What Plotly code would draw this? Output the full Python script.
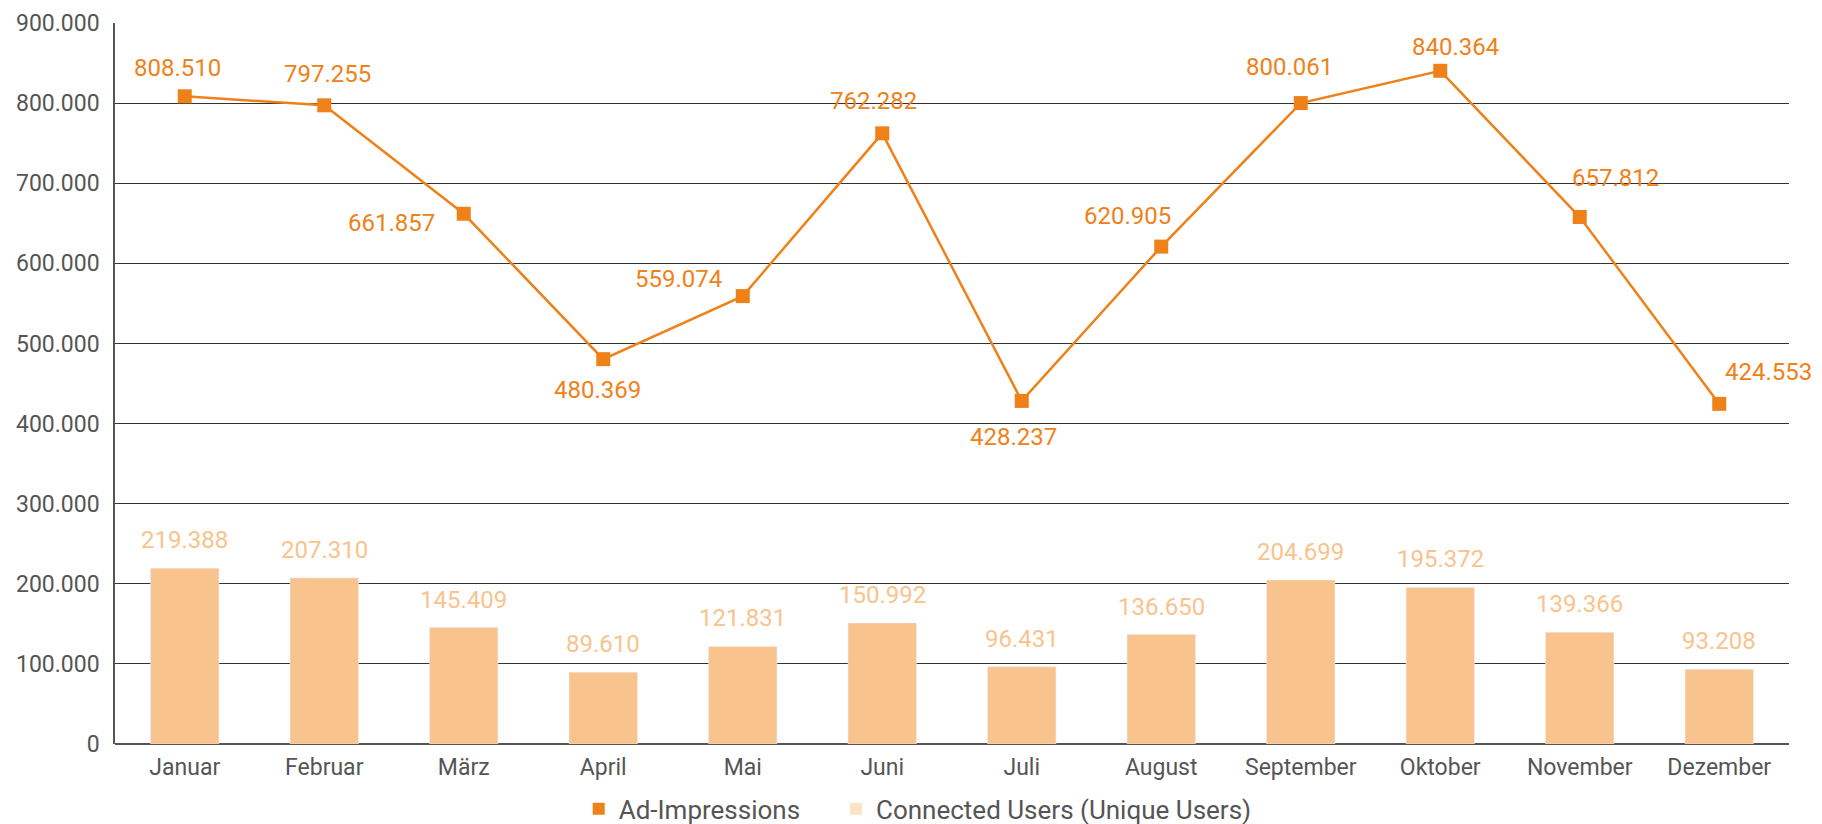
import plotly.graph_objects as go

months = ["Januar", "Februar", "März", "April", "Mai", "Juni", "Juli",
          "August", "September", "Oktober", "November", "Dezember"]
ad_impressions = [808510, 797255, 661857, 480369, 559074, 762282, 428237,
                  620905, 800061, 840364, 657812, 424553]
connected_users = [219388, 207310, 145409, 89610, 121831, 150992, 96431,
                   136650, 204699, 195372, 139366, 93208]

# label offsets (pixels) for the line value labels
line_dx = [-7, 3, -72, -6, -64, -9, -8, -34, -11, 15, 36, 49]
line_dy = [28, 31, -9, -31, 17, 32, -36, 31, 36, 24, 39, 32]

ORANGE = "#EF8119"
BAR = "#F9C38D"
BAR_LEGEND = "#FFE3C8"
FONT = "Roboto"
GREY = "#555555"

fmt = lambda v: f"{v:,}".replace(",", ".")

fig = go.Figure()
fig.add_trace(go.Bar(
    x=months, y=connected_users, marker_color=BAR, showlegend=False,
    hoverinfo="skip"))
fig.add_trace(go.Scatter(
    x=months, y=ad_impressions, mode="lines+markers",
    line=dict(color=ORANGE, width=2.5),
    marker=dict(symbol="square", size=14, color=ORANGE),
    showlegend=False))
# legend entries
fig.add_trace(go.Scatter(
    x=[None], y=[None], mode="markers", name="Ad-Impressions",
    marker=dict(symbol="square", size=19, color=ORANGE), legend="legend"))
fig.add_trace(go.Scatter(
    x=[None], y=[None], mode="markers", name="Connected Users (Unique Users)",
    marker=dict(symbol="square", size=19, color=BAR_LEGEND), legend="legend2"))

annotations = []
for m, v, dx, dy in zip(months, ad_impressions, line_dx, line_dy):
    annotations.append(dict(
        x=m, y=v, text=fmt(v), showarrow=False, xshift=dx, yshift=dy,
        font=dict(family=FONT, size=24, color=ORANGE)))
for m, v in zip(months, connected_users):
    annotations.append(dict(
        x=m, y=v, text=fmt(v), showarrow=False, yshift=28,
        font=dict(family=FONT, size=24, color=BAR)))

legend_style = dict(orientation="h", xanchor="left", y=-0.090, yanchor="middle",
                    font=dict(family=FONT, size=26, color=GREY),
                    itemsizing="constant", bgcolor="rgba(0,0,0,0)")

# page has an 8px body margin: figure is sized to fill the remaining window
fig.update_layout(
    width=1814, height=816,
    margin=dict(l=107, r=33, t=15, b=80, autoexpand=False),
    paper_bgcolor="white", plot_bgcolor="white",
    bargap=0.51,
    separators=",.",
    font=dict(family=FONT, color=GREY),
    annotations=annotations,
    legend=dict(x=0.277, **legend_style),
    legend2=dict(x=0.4307, **legend_style),
    xaxis=dict(showgrid=False, showline=False, ticks="", automargin=False,
               range=[-0.5, len(months) - 0.5],
               tickfont=dict(family=FONT, size=23, color=GREY),
               ticklabelstandoff=7, fixedrange=True),
    yaxis=dict(range=[0, 900000], dtick=100000, tickformat=",d",
               showgrid=True, gridcolor="#333333", gridwidth=1,
               showline=True, linecolor=GREY, linewidth=1.5,
               zeroline=True, zerolinecolor=GREY, zerolinewidth=1.5,
               tickfont=dict(family=FONT, size=23, color=GREY),
               ticklabelstandoff=9, automargin=False, fixedrange=True),
)

fig.write_html("out.html")
